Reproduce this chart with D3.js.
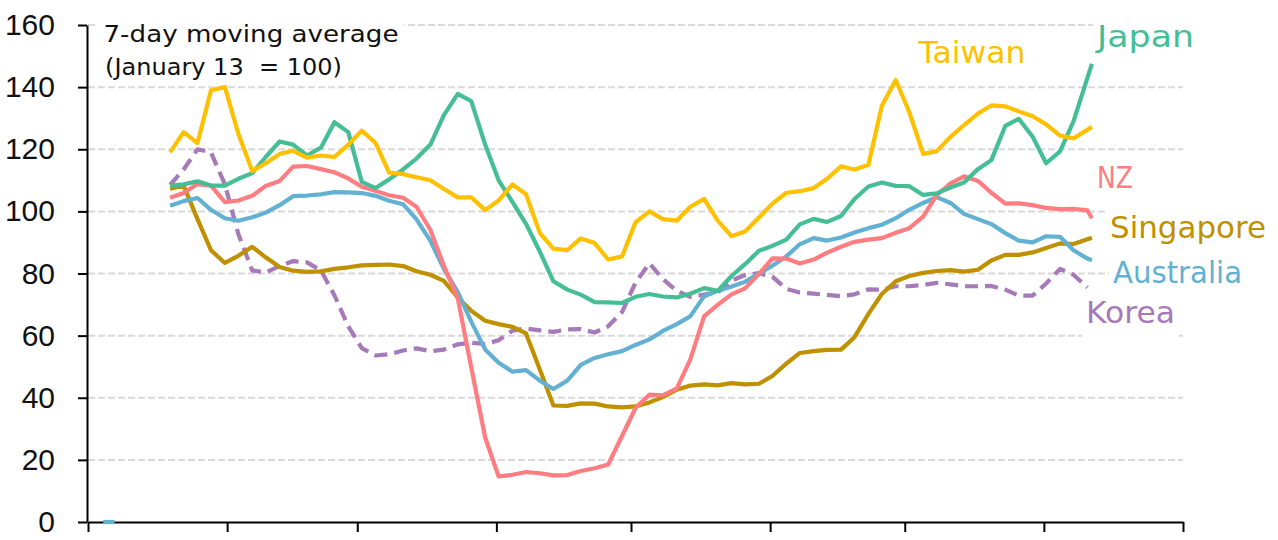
<!DOCTYPE html>
<html><head><meta charset="utf-8">
<script src="https://cdn.jsdelivr.net/npm/d3@7"></script>
<style>body{margin:0;background:#fff;} svg{display:block;}</style>
</head><body>
<svg id="chart" width="1278" height="540"></svg>
<script>
// ---- data (x = days since January 1, 2020) ----
const days = [18.3,21.3,24.4,27.4,30.5,33.5,36.6,39.6,42.7,45.7,48.8,51.9,54.9,58.0,61.0,64.1,67.1,70.2,73.2,76.3,79.3,82.4,85.4,88.5,91.5,94.6,97.6,100.7,103.7,106.8,109.8,112.9,115.9,119.0,122.0,125.1,128.1,131.2,134.2,137.3,140.3,143.4,146.4,149.5,152.5,155.6,158.6,161.7,164.7,167.8,170.8,173.9,176.9,180.0,183.0,186.1,189.1,192.2,195.2,198.3,201.3,204.4,207.4,210.5,213.5,216.6,219.6,222.7,223.7];
const taiwan = [119,125.5,122,139,140,125,113,115.5,118.5,119.5,117.3,118,117.5,121.5,126,122,112.5,112,111,110,107.2,104.5,104.5,100.4,103.5,108.7,105.5,93,88,87.5,91.3,89.8,84.5,85.5,96.5,100,97.5,97,101.5,104,97,92,93.5,98,102.5,106,106.5,107.5,110.5,114.5,113.5,115,134,142.3,132,118.5,119.3,124,127.8,131.5,134.1,133.8,132.2,130.6,128,124.4,123.5,126.3,127.2];
const japan = [108.3,108.7,109.7,108.3,108.3,110.5,112.3,117.5,122.5,121.5,118,120.5,128.7,125.5,109.5,107.5,110.3,113.5,117,121.5,131,137.8,135.5,121.5,110,103,96,87,77.5,74.8,73.2,70.8,70.7,70.5,72.5,73.4,72.6,72.3,73.5,75.3,74.4,79.2,83,87.3,88.9,90.9,95.8,97.6,96.6,98.5,104,108,109.3,108.2,108.1,105.3,105.8,107.7,109.3,113.6,116.5,127.5,129.8,124,115.5,119.3,129,143,147.5];
const nz = [104.4,105.9,108.8,108.3,103,103.5,105,108.2,109.8,114.4,114.6,113.6,112.6,110.6,107.9,106.6,105.2,104.4,101.5,94,82.5,72,49.8,27.2,14.7,15.2,16.1,15.7,15,15.1,16.4,17.3,18.5,27.7,36.7,41,40.8,43,52.3,66.3,69.9,73.3,75.2,79.8,84.9,84.8,83.2,84.5,86.7,88.6,90.2,90.9,91.4,93.1,94.6,98.3,105.2,109,111.3,109.8,106,102.5,102.6,102,101.1,100.7,100.8,100.3,97.8];
const australia = [101.8,103.3,104.3,100.5,97.8,97,98.1,99.6,102,104.9,105.1,105.5,106.2,106.1,105.9,105,103.4,102.3,97.4,90.5,81.5,74,64.5,55.5,51.3,48.4,48.9,45.5,42.8,45.5,50.6,52.8,54,55,57,58.8,61.5,63.7,66.2,72.7,74.4,75.8,77.3,80,82.5,85.5,89.4,91.4,90.6,91.6,93.2,94.6,95.7,97.8,100.5,102.7,104.6,102.7,99.2,97.5,95.9,93,90.6,90,92,91.8,87.5,84.8,84.3];
const singapore = [107.3,108.3,97.5,87.5,83.4,85.7,88.6,85.2,82.1,80.9,80.5,80.7,81.5,82,82.6,82.8,82.9,82.4,80.7,79.6,77.6,72.3,68,64.8,63.7,62.8,60.7,49,37.5,37.4,38.2,38.1,37.2,36.9,37.2,38.5,40.2,42.6,43.9,44.3,44,44.7,44.3,44.5,47,51,54.4,55,55.4,55.5,59.5,67,73.4,77.5,79.2,80.2,80.8,81.1,80.6,81.2,84.2,86,86,86.8,88.2,89.7,89.5,91,91.5];
const korea = [108.5,113.5,120,119,108.7,92.7,81,80.3,82.4,84,83.6,81,73,63,56,53.6,54,55.2,55.9,55,55.5,57.2,57.7,57.3,58.5,61.6,62.3,61.7,61.2,62,62.1,61,63,67.6,77,83.3,78.2,74.4,72.5,73.2,73.9,77.7,79.5,80.1,79,75,73.9,73.5,73.1,72.7,73.3,74.9,74.8,75.9,75.9,76.3,77,76.5,75.9,75.9,76,74.8,72.9,72.9,76.8,81.5,79.6,75.5,null];
const australiaStrayDays = [3.4, 5.9];
const australiaStrayValues = [0, 0];
const yTicks = [0,20,40,60,80,100,120,140,160];
const monthStartDays = [0,31,60,91,121,152,182,213,244]; // Jan 1 ... Sep 1
const seriesNames = ["Korea","Singapore","Australia","NZ","Japan","Taiwan"];
const titleLines = ["7-day moving average","(January 13  = 100)"];

// ---- styles / layout ----
const valuesByName = {Korea:korea, Singapore:singapore, Australia:australia, NZ:nz, Japan:japan, Taiwan:taiwan};
const colors = {Japan:"#45BE95", Taiwan:"#FFC000", NZ:"#FF7C80", Singapore:"#BF9000", Australia:"#62B0D2", Korea:"#A679B8"};
const labelLayout = { // left x, baseline y, text width (px)
  Japan:[1097,46.7,97], Taiwan:[918.5,63.3,107], NZ:[1097,188.3,36],
  Singapore:[1110,238.3,156], Australia:[1113,282.7,129], Korea:[1086,323.3,89]
};
const FONT = "'DejaVu Sans', sans-serif";

const svg = d3.select("#chart");
const x = d3.scaleLinear().domain([0,244]).range([88,1183]);
const y = d3.scaleLinear().domain([0,160]).range([522,25]);

// gridlines
svg.append("g").selectAll("line").data(yTicks.filter(t=>t>0)).join("line")
  .attr("x1", x(0)).attr("x2", x(244))
  .attr("y1", d=>y(d)).attr("y2", d=>y(d))
  .attr("stroke","#d9d9d9").attr("stroke-width",2).attr("stroke-dasharray","7,3");

// title box + text
const tg = svg.append("g");
tg.append("rect").attr("x",98).attr("y",12).attr("width",306).attr("height",72).attr("fill","#fff");
tg.selectAll("text").data(titleLines).join("text")
  .attr("x",(d,i)=> i===0 ? 103.5 : 105)
  .attr("y",(d,i)=> i===0 ? 41.7 : 74.5)
  .attr("textLength",(d,i)=> i===0 ? 295 : 237)
  .attr("lengthAdjust","spacingAndGlyphs")
  .style("white-space","pre")
  .attr("font-family",FONT).attr("font-size",23).attr("fill","#111")
  .text(d=>d);

// label boxes
const lg = svg.append("g");
seriesNames.forEach(n=>{
  const [lx,ly,lw] = labelLayout[n];
  lg.append("rect").attr("x",lx-4).attr("y",ly-33).attr("width",lw+8).attr("height",47).attr("fill","#fff");
});

// axes
const yAxis = svg.append("g").attr("transform","translate(87,0)")
  .call(d3.axisLeft(y).tickValues(yTicks).tickSize(9).tickSizeOuter(0).tickPadding(23).tickFormat(d3.format("d")));
yAxis.selectAll("line,path").attr("stroke","#000").attr("stroke-width",2);
yAxis.selectAll("text").attr("font-family","'Liberation Sans', sans-serif").attr("font-size",30).attr("fill","#111");

const xAxis = svg.append("g").attr("transform","translate(0,522)")
  .call(d3.axisBottom(x).tickValues(monthStartDays).tickSize(10).tickSizeOuter(0).tickFormat(""));
xAxis.selectAll("line,path").attr("stroke","#000").attr("stroke-width",2);

// lines
const line = d3.line().defined(d=>d.v!=null).x(d=>x(d.d)).y(d=>y(d.v));
const lines = svg.append("g").attr("fill","none").attr("stroke-width",4.2)
  .attr("stroke-linejoin","round");
seriesNames.forEach(n=>{
  const pts = valuesByName[n].map((v,i)=>({d:days[i], v:v}));
  const p = lines.append("path").attr("d", line(pts)).attr("stroke", colors[n]);
  if (n==="Korea") p.attr("stroke-dasharray","13,7");
});
lines.append("path")
  .attr("d", line(australiaStrayValues.map((v,i)=>({d:australiaStrayDays[i], v:v}))))
  .attr("stroke", colors.Australia);

// labels
seriesNames.forEach(n=>{
  const [lx,ly,lw] = labelLayout[n];
  lg.append("text").attr("x",lx).attr("y",ly)
    .attr("textLength",lw).attr("lengthAdjust","spacingAndGlyphs")
    .attr("font-family",FONT).attr("font-size",30).attr("fill",colors[n]).text(n);
});
</script>
</body></html>
